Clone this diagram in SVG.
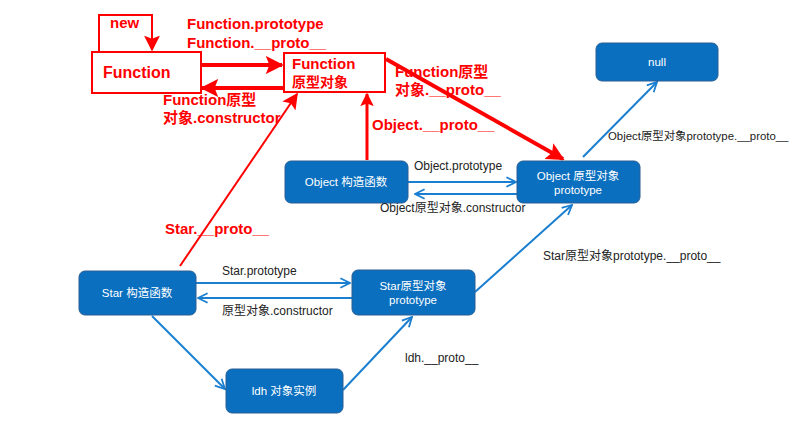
<svg xmlns="http://www.w3.org/2000/svg" width="803" height="431" viewBox="0 0 803 431">
<style>
text{font-family:"Liberation Sans","Noto Sans CJK SC",sans-serif}
.bb{fill:#0a6fbf;stroke:#2a5f94;stroke-width:1}
.bt{fill:#fff;font-size:11.5px;text-anchor:middle}
.rb{fill:#fff;stroke:#f00;stroke-width:2}
.rt{fill:#f00;font-weight:bold;font-size:15px}
.lt{fill:#222;font-size:12px}
.bl{stroke:#1a7fd0;stroke-width:2;fill:none;marker-end:url(#ba)}
.rl{stroke:#f00;fill:none;marker-end:url(#ra)}
</style>
<defs>
<marker id="ba" viewBox="0 0 10 10" refX="9" refY="5" markerWidth="6" markerHeight="6" markerUnits="strokeWidth" orient="auto"><path d="M1,1 L9,5 L1,9" fill="none" stroke="#1a7fd0" stroke-width="1.5"/></marker>
<marker id="ra" viewBox="0 0 10 10" refX="9" refY="5" markerWidth="4.5" markerHeight="4.5" markerUnits="strokeWidth" orient="auto"><path d="M0,0 L10,5 L0,10 L2,5 z" fill="#f00"/></marker>
<marker id="ra2" viewBox="0 0 10 10" refX="9" refY="5" markerWidth="8" markerHeight="8" markerUnits="strokeWidth" orient="auto"><path d="M0,0 L10,5 L0,10 L2,5 z" fill="#f00"/></marker>
</defs>
<rect width="803" height="431" fill="#fff"/>
<g id="connectors">
<path stroke="#f00" stroke-width="2" fill="none" marker-end="url(#ra2)" d="M99,52 V15 H152 V50"/>
<line class="rl" stroke-width="4" x1="202" y1="65" x2="282" y2="65"/>
<line class="rl" stroke-width="4" x1="284" y1="88" x2="202" y2="88"/>
<line stroke="#f00" stroke-width="2" fill="none" marker-end="url(#ra2)" x1="180" y1="266" x2="297" y2="94"/>
<line class="rl" stroke-width="3" x1="367" y1="160" x2="367" y2="94"/>
<line class="rl" stroke-width="4" x1="386" y1="59" x2="563" y2="159"/>
<line class="bl" x1="583" y1="157" x2="657" y2="82"/>
<line class="bl" x1="408" y1="182" x2="516" y2="182"/>
<line class="bl" x1="517" y1="194" x2="415" y2="194"/>
<line class="bl" x1="196" y1="283" x2="350" y2="283"/>
<line class="bl" x1="352" y1="298" x2="198" y2="298"/>
<line class="bl" x1="152" y1="316" x2="225" y2="389"/>
<line class="bl" x1="343" y1="390" x2="412" y2="317"/>
<line class="bl" x1="475" y1="292" x2="572" y2="205"/>
</g>
<g id="function">
<rect class="rb" x="92" y="52" width="109" height="41"/>
<text class="rt" x="103" y="78" style="font-size:16px">Function</text>
</g>
<g id="function-proto">
<rect class="rb" x="284" y="53" width="101" height="39"/>
<text class="rt" x="292" y="69">Function</text>
<text class="rt" x="292" y="87" style="font-size:14px">原型对象</text>
</g>
<g id="null">
<rect class="bb" x="596" y="43" width="122" height="38" rx="6"/>
<text class="bt" x="657" y="66">null</text>
</g>
<g id="object-ctor">
<rect class="bb" x="285" y="161" width="123" height="42" rx="6"/>
<text class="bt" x="346" y="186">Object 构造函数</text>
</g>
<g id="object-proto">
<rect class="bb" x="517" y="161" width="123" height="42" rx="6"/>
<text class="bt" x="578" y="180">Object 原型对象</text>
<text class="bt" x="578" y="194">prototype</text>
</g>
<g id="star-ctor">
<rect class="bb" x="79" y="271" width="117" height="44" rx="6"/>
<text class="bt" x="137" y="297">Star 构造函数</text>
</g>
<g id="star-proto">
<rect class="bb" x="352" y="270" width="123" height="45" rx="6"/>
<text class="bt" x="413" y="290">Star原型对象</text>
<text class="bt" x="413" y="304">prototype</text>
</g>
<g id="ldh">
<rect class="bb" x="226" y="369" width="117" height="44" rx="6"/>
<text class="bt" x="284" y="395">ldh 对象实例</text>
</g>
<g id="labels">
<text class="rt" x="110" y="28">new</text>
<text class="rt" x="187" y="29">Function.prototype</text>
<text class="rt" x="187" y="48">Function.__proto__</text>
<text class="rt" x="163" y="105">Function原型</text>
<text class="rt" x="163" y="123">对象.constructor</text>
<text class="rt" x="395" y="77">Function原型</text>
<text class="rt" x="395" y="95">对象.__proto__</text>
<text class="rt" x="372" y="130">Object.__proto__</text>
<text class="rt" x="165" y="234">Star.__proto__</text>
<text class="lt" x="414" y="170">Object.prototype</text>
<text class="lt" x="380" y="212">Object原型对象.constructor</text>
<text class="lt" x="608" y="140" style="font-size:11.4px">Object原型对象prototype.__proto__</text>
<text class="lt" x="222" y="275">Star.prototype</text>
<text class="lt" x="222" y="315">原型对象.constructor</text>
<text class="lt" x="405" y="362">ldh.__proto__</text>
<text class="lt" x="543" y="260">Star原型对象prototype.__proto__</text>
</g>
</svg>
